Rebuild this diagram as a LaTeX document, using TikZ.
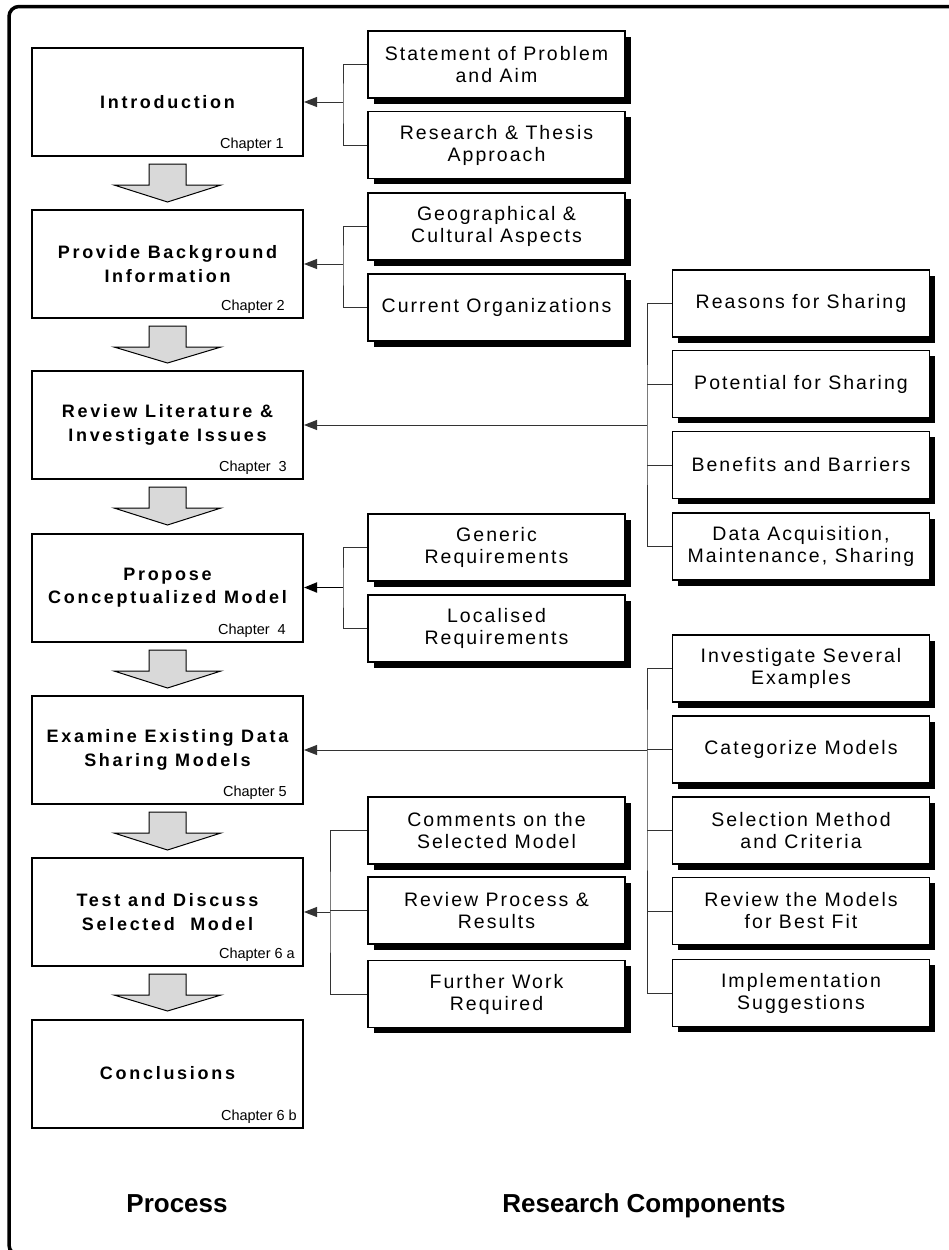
\documentclass[tikz,border=0pt]{standalone}
\usepackage{fontspec}
\setmainfont{Liberation Sans}
\newfontfamily\procfont{Liberation Sans}[LetterSpace=15]
\newfontfamily\compfont{Liberation Sans}[LetterSpace=10.5]
\usetikzlibrary{arrows.meta,shadows}

% grey block arrow between two stacked process boxes (bottom of upper, top of lower)
\newcommand\flowarrow[2]{%
  \draw[flowarrowstyle] (149,#1+8) -- (186,#1+8) -- (186,#1+29) -- (221,#1+29)
    -- (167.5,#2-8) -- (114,#1+29) -- (149,#1+29) -- cycle;}

\begin{document}
\begin{tikzpicture}[x=1pt,y=-1pt,
  proc/.style={draw=black, line width=2pt, fill=white,
    minimum width=271pt, minimum height=108pt, inner sep=0pt, align=center,
    font=\procfont\bfseries\fontsize{18}{23.3}\selectfont},
  comp/.style={draw=black, line width=1.2pt, fill=white,
    minimum width=257pt, minimum height=67pt, inner sep=0pt, align=center,
    font=\compfont\fontsize{19.5}{22}\selectfont,
    general shadow={fill=black, shadow xshift=5.5pt, shadow yshift=-5.5pt}},
  chap/.style={anchor=base east, inner sep=0pt, font=\fontsize{14.5}{17}\selectfont},
  flowarrowstyle/.style={draw=black, line width=1pt, fill=black!15},
  link/.style={draw=black!80, line width=0.9pt},
  feed/.style={link, -{Triangle[length=13pt,width=10pt]}},
  caption/.style={anchor=base, inner sep=0pt, font=\bfseries\fontsize{26}{30}\selectfont}
]
\useasboundingbox (0,0) rectangle (949,1250);

% outer frame, running off the page on the right and at the bottom
\begin{scope}
  \clip (0,0) rectangle (949,1250);
  \draw[line width=3.5pt, rounded corners=10pt] (9,6.5) rectangle (975,1255);
\end{scope}

% process column
\node[proc] (intro) at (167.5,102)   {Introduction};
\node[proc] (bg)    at (167.5,264)   {Provide Background\\Information};
\node[proc] (lit)   at (167.5,425)   {Review Literature \&\\Investigate Issues};
\node[proc] (model) at (167.5,587.5) {Propose\\Conceptualized Model};
\node[proc] (exam)  at (167.5,750)   {Examine Existing Data\\Sharing Models};
\node[proc] (test)  at (167.5,912)   {Test and Discuss\\Selected\ \ Model};
\node[proc] (concl) at (167.5,1073.5){Conclusions};

\node[chap] (c1)  at (284,148.5)  {Chapter 1};
\node[chap] (c2)  at (285,310.5)  {Chapter 2};
\node[chap] (c3)  at (287,471.5)  {Chapter\ \ 3};
\node[chap] (c4)  at (286,634.5)  {Chapter\ \ 4};
\node[chap] (c5)  at (287,796.5)  {Chapter 5};
\node[chap] (c6a) at (295,958.5)  {Chapter 6 a};
\node[chap] (c6b) at (297,1120.5) {Chapter 6 b};

\flowarrow{156}{210}
\flowarrow{318}{371}
\flowarrow{479}{533}
\flowarrow{642}{696}
\flowarrow{804}{858}
\flowarrow{966}{1019}

% research components, inner column
\node[comp] (stmt) at (496.5,64.5)  {Statement of Problem\\and Aim};
\node[comp] (rta)  at (496.5,145)   {Research \& Thesis\\Approach};
\node[comp] (geo)  at (496.5,226.5) {Geographical \&\\Cultural Aspects};
\node[comp] (org)  at (496.5,307.5) {Current Organizations};
\node[comp] (gen)  at (496.5,547.5) {Generic\\Requirements};
\node[comp] (loc)  at (496.5,628.5) {Localised\\Requirements};
\node[comp] (com)  at (496.5,830.5) {Comments on the\\Selected Model};
\node[comp] (rpr)  at (496.5,910.5) {Review Process \&\\Results};
\node[comp] (fw)   at (496.5,994)   {Further Work\\Required};

% research components, outer column
\node[comp] (reas) at (801,303.5) {Reasons for Sharing};
\node[comp] (pot)  at (801,384)   {Potential for Sharing};
\node[comp] (ben)  at (801,465)   {Benefits and Barriers};
\node[comp] (dat)  at (801,546.5) {Data Acquisition,\\Maintenance, Sharing};
\node[comp] (inv)  at (801,668.5) {Investigate Several\\Examples};
\node[comp] (cat)  at (801,749.5) {Categorize Models};
\node[comp] (sel)  at (801,830.5) {Selection Method\\and Criteria};
\node[comp] (rmb)  at (801,911)   {Review the Models\\for Best Fit};
\node[comp] (imp)  at (801,993)   {Implementation\\Suggestions};

% bracket junctions
\coordinate (j1) at (343,102);
\coordinate (j2) at (343,264);
\coordinate (j3) at (647,425);
\coordinate (j4) at (343,587.5);
\coordinate (j5) at (647,750);
\coordinate (j6) at (330,912);

% Introduction
\draw[link] (stmt.west) -| (j1) |- (rta.west);
\draw[feed] (j1) -- (intro.east);
% Background
\draw[link] (geo.west) -| (j2) |- (org.west);
\draw[feed] (j2) -- (bg.east);
% Literature
\draw[link] (reas.west) -| (j3) |- (dat.west);
\draw[link] (pot.west) -- (pot.west -| j3);
\draw[link] (ben.west) -- (ben.west -| j3);
\draw[feed] (j3) -- (lit.east);
% Model
\draw[link] (gen.west) -| (j4) |- (loc.west);
\draw[feed, draw=black, line width=1.8pt] (j4) -- (model.east);
% Existing models
\draw[link] (inv.west) -| (j5) |- (imp.west);
\draw[link] (cat.west) -- (cat.west -| j5);
\draw[link] (sel.west) -- (sel.west -| j5);
\draw[link] (rmb.west) -- (rmb.west -| j5);
\draw[feed] (j5) -- (exam.east);
% Test and discuss
\draw[link] (com.west) -| (j6) |- (fw.west);
\draw[link] (rpr.west) -- (rpr.west -| j6);
\draw[feed] (j6) -- (test.east);

% column captions
\node[caption] (capP) at (177,1212) {Process};
\node[caption] (capR) at (644,1212) {Research Components};
\end{tikzpicture}
\end{document}
